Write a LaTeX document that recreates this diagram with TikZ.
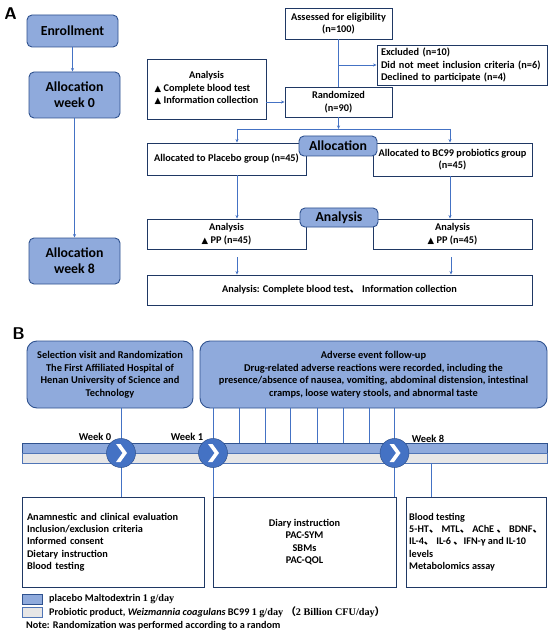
\documentclass[tikz,border=0pt]{standalone}
\usepackage{fontspec}
\setmainfont{Carlito}
\newfontfamily\cjk{Noto Sans CJK SC}
\newfontfamily\dejavu{DejaVu Sans}
\newfontfamily\tnr{Liberation Serif}
\usetikzlibrary{arrows.meta,calc}
\definecolor{fillblue}{HTML}{8FAADC}
\definecolor{edgeblue}{HTML}{2F528F}
\definecolor{lineblue}{HTML}{4472C4}
\definecolor{navy}{HTML}{1F3864}
\definecolor{bargrey}{HTML}{E7E6E6}
\newcommand\tri{{\dejavu\fontsize{8.5}{8.5}\selectfont ▲}}
\newcommand\dun{{\cjk 、}}
\begin{document}
\begin{tikzpicture}[x=1pt,y=-1pt,
  every node/.style={font=\bfseries\fontsize{10.3}{12.5}\selectfont, inner sep=2pt},
  wbox/.style={draw=navy, line width=0.9pt, fill=white, align=center},
  rbox/.style={draw=edgeblue, line width=0.9pt, fill=fillblue, rounded corners=5pt, align=center},
  rbig/.style={draw=edgeblue, line width=0.9pt, fill=fillblue, rounded corners=10pt, align=center},
  conn/.style={draw=lineblue, line width=0.8pt},
  arr/.style={conn, -{Stealth[length=3.5pt,width=3pt]}},
  bigtxt/.style={font=\bfseries\fontsize{13.8}{16}\selectfont},
  panel/.style={font=\bfseries\sffamily\fontsize{17}{17}\selectfont},
  circ/.style={circle, fill=lineblue, draw=edgeblue, line width=0.5pt, minimum size=29pt, inner sep=0pt}
]
\useasboundingbox (0,0) rectangle (550,636);
\fill[white] (0,0) rectangle (550,636);

% ---------------- Panel A ----------------
\node[panel] (lblA) at (10.5,14) {A};
\node[rbox, bigtxt, minimum width=91, minimum height=32] (enroll) at (72.5,31) {Enrollment};
\node[rbox, bigtxt, minimum width=91, minimum height=46] (alloc0) at (74.5,95) {Allocation\\week 0};
\node[rbox, bigtxt, minimum width=91, minimum height=46] (alloc8) at (74.5,261) {Allocation\\week 8};
\draw[arr] (enroll.south) -- (enroll.south |- alloc0.north);
\draw[arr] (alloc0.south) -- (alloc8.north);

\node[wbox, minimum width=119, minimum height=60] (anaA) at (206.5,89)
  {\begin{tabular}{@{}l@{}}\multicolumn{1}{@{}c@{}}{Analysis}\\\tri\ Complete blood test\\\tri\ Information collection\end{tabular}};
\node[wbox, minimum width=107, minimum height=31] (assess) at (338.5,23.5) {Assessed for eligibility\\(n=100)};
\node[wbox, minimum width=170, minimum height=40, align=left, text width=162, inner xsep=4pt] (excl) at (462,65)
  {Excluded (n=10)\\Did not meet inclusion criteria (n=6)\\Declined to participate (n=4)};
\node[wbox, minimum width=107, minimum height=30] (rand) at (338.5,102) {Randomized\\(n=90)};

\draw[conn] (assess.south) -- (rand.north);
\draw[arr] (assess.south |- excl.west) -- (excl.west);
\draw[arr] (rand.west -| anaA.east) -- (rand.west);

\coordinate (split) at (338.5,129);
\coordinate (sL) at (237,129);
\coordinate (sR) at (450,129);
\draw[arr] (rand.south) -- (split);
\draw[conn] (sL) -- (sR);

\node[wbox, minimum width=159, minimum height=32] (placebo) at (226.5,159) {Allocated to Placebo group (n=45)};
\node[wbox, minimum width=159, minimum height=33] (bc99) at (452.5,159.5) {Allocated to BC99 probiotics group\\(n=45)};
\node[rbox, font=\bfseries\fontsize{13.8}{15}\selectfont, minimum width=78, minimum height=20, inner sep=0pt] (allocLbl) at (338,146) {Allocation};
\draw[arr] (sL) -- (sL |- placebo.north);
\draw[arr] (sR) -- (sR |- bc99.north);

\node[wbox, minimum width=159, minimum height=30] (anaL) at (226.5,234) {Analysis\\\tri\ PP (n=45)};
\node[wbox, minimum width=159, minimum height=30] (anaR) at (452.5,234) {Analysis\\\tri\ PP (n=45)};
\node[rbox, font=\bfseries\fontsize{13.8}{15}\selectfont, minimum width=78, minimum height=19, inner sep=0pt] (anaLbl) at (339,217.5) {Analysis};
\draw[arr] (sL |- placebo.south) -- (sL |- anaL.north);
\draw[arr] (sR |- bc99.south) -- (sR |- anaR.north);

\node[wbox, minimum width=385, minimum height=30] (final) at (339.5,290) {Analysis: Complete blood test\dun\ Information collection};
\coordinate (aL1) at (237,257);
\coordinate (aR1) at (451,257);
\draw[arr] (aL1) -- (aL1 |- final.north);
\draw[arr] (aR1) -- (aR1 |- final.north);

% ---------------- Panel B ----------------
\node[panel] (lblB) at (18.5,334) {B};
\node[rbig, minimum width=166, minimum height=67, font=\bfseries\fontsize{10.4}{12.5}\selectfont] (selBox) at (110,374.5)
  {Selection visit and Randomization\\The First Affiliated Hospital of\\Henan University of Science and\\Technology};
\node[rbig, minimum width=347, minimum height=67, font=\bfseries\fontsize{10.4}{12.5}\selectfont] (advBox) at (373.5,374.5)
  {Adverse event follow-up\\Drug-related adverse reactions were recorded, including the\\presence/absence of nausea, vomiting, abdominal distension, intestinal\\cramps, loose watery stools, and abnormal taste};

\node[draw=edgeblue, line width=0.7pt, fill=fillblue, minimum width=525, minimum height=10, inner sep=0pt] (bar) at (284.5,448) {};
\node[draw=lineblue!80!gray, line width=0.7pt, fill=bargrey, minimum width=525, minimum height=10, inner sep=0pt] (gbar) at (284.5,458) {};

\node[wbox, minimum width=182, minimum height=90, align=left, text width=172, inner xsep=5pt, font=\bfseries\fontsize{10.3}{12.3}\selectfont] (leftLow) at (113,542)
  {Anamnestic and clinical evaluation\\Inclusion/exclusion criteria\\Informed consent\\Dietary instruction\\Blood testing};
\node[wbox, minimum width=183, minimum height=90] (midLow) at (304.5,542)
  {Diary instruction\\PAC-SYM\\SBMs\\PAC-QOL};
\node[wbox, minimum width=140, minimum height=90, align=left, font=\bfseries\fontsize{10.2}{12.3}\selectfont] (rightLow) at (476,542)
  {Blood testing\\5-HT\dun\ MTL\dun\ AChE \dun\ BDNF\dun\\IL-4\dun\ IL-6 \dun IFN-γ and IL-10\\levels\\Metabolomics assay};

\coordinate (k0) at (121,453);
\coordinate (k1) at (213,453);
\coordinate (k8) at (394.5,453);
\draw[conn] (k0 |- selBox.south) -- (k0 |- leftLow.north);
\draw[conn] (k1 |- advBox.south) -- (k1 |- midLow.north);
\draw[conn] (k8 |- advBox.south) -- (k8 |- midLow.north);
\foreach \x in {239,265,290,317,343,369}{
  \coordinate (v\x) at (\x,0);
  \draw[conn] (v\x |- advBox.south) -- (v\x |- bar.north);
}
\coordinate (v431) at (431,0);
\draw[conn] (v431 |- gbar.south) -- (v431 |- rightLow.north);

\foreach \n/\c in {c0/k0, c1/k1, c8/k8}{
  \node[circ] (\n) at (\c) {};
  \fill[white] ($(\c)+(-5,-9)$) -- ++(4.5,0) -- ++(6.5,9) -- ++(-6.5,9) -- ++(-4.5,0) -- ++(6.5,-9) -- cycle;
}

\node[font=\bfseries\fontsize{10.5}{12}\selectfont] (w0) at (95,437) {Week 0};
\node[font=\bfseries\fontsize{10.5}{12}\selectfont] (w1) at (187,437) {Week 1};
\node[font=\bfseries\fontsize{10.5}{12}\selectfont] (w8) at (428,439) {Week 8};

% legend
\node[draw=edgeblue, line width=0.6pt, fill=fillblue, minimum width=20, minimum height=10, inner sep=0pt] (legB) at (32,599) {};
\node[draw=lineblue!80!gray, line width=0.6pt, fill=bargrey, minimum width=20, minimum height=10, inner sep=0pt] (legG) at (32,612) {};
\node[anchor=west, font=\bfseries\fontsize{10.2}{12}\selectfont] (legBt) at (47,599) {placebo Maltodextrin {\tnr\fontsize{10.2}{12}\selectfont 1 g/day}};
\node[anchor=west, font=\bfseries\fontsize{10.2}{12}\selectfont] (legGt) at (47,612) {Probiotic product, \textit{Weizmannia coagulans} BC99 {\tnr\fontsize{10.2}{12}\selectfont 1 g/day \cjk（\tnr 2 Billion CFU/day\cjk）}};
\node[anchor=west, font=\bfseries\fontsize{10.2}{12}\selectfont] (note) at (24,626) {Note: Randomization was performed according to a random};
\end{tikzpicture}
\end{document}
